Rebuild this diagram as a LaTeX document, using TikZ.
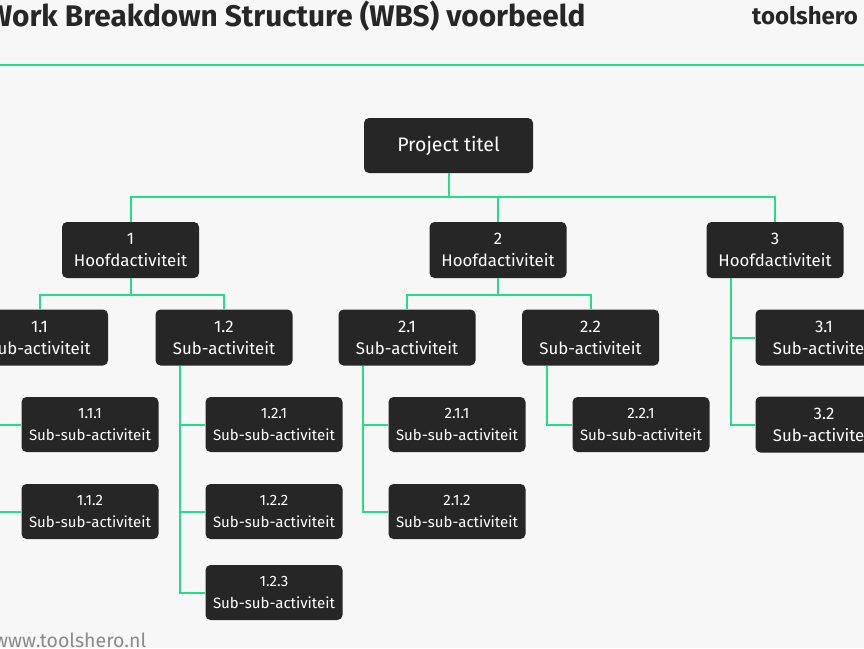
\documentclass[tikz,border=0pt]{standalone}
\usepackage{fontspec}
\setmainfont{Fira Sans}
\definecolor{bg}{HTML}{F7F7F7}
\definecolor{grn}{HTML}{22DD8C}
\definecolor{boxc}{HTML}{262626}
\definecolor{txt}{HTML}{262626}
\definecolor{urlc}{HTML}{8A8A8A}
\tikzset{
  box/.style={fill=boxc, rounded corners=5pt, text=white, align=center, inner sep=0pt},
  topbox/.style={box, minimum width=169pt, minimum height=55pt, font=\fontsize{19.5}{22}\selectfont},
  midbox/.style={box, minimum width=137pt, minimum height=56pt, font=\fontsize{16.8}{22}\selectfont},
  lowbox/.style={box, minimum width=137pt, minimum height=55pt, font=\fontsize{15}{22}\selectfont},
  conn/.style={draw=grn, line width=2pt},
}
\begin{document}
\begin{tikzpicture}[x=1pt,y=-1pt]
\useasboundingbox (0,0) rectangle (864,648);
\clip (0,0) rectangle (864,648);
\fill[bg] (0,0) rectangle (864,648);
% header
\node[anchor=base west, inner sep=0pt, text=txt, font=\fontsize{29.8}{34}\selectfont\bfseries] (title) at (-13,26.5) {Work Breakdown Structure (WBS) voorbeeld};
\node[anchor=base west, inner sep=0pt, text=txt, font=\fontsize{24}{28}\selectfont\bfseries] (logo) at (752,24.5) {toolshero};
\coordinate (hl) at (0,65);
\coordinate (hr) at (864,65);
\draw[conn, line width=2.2pt] (hl) -- (hr);
\node[anchor=base west, inner sep=0pt, text=urlc, font=\fontsize{19.5}{22}\selectfont] (url) at (-6,647) {www.toolshero.nl};
% nodes
\node[topbox] (p) at (448.5,145.5) {Project titel};
\node[midbox] (n1) at (130.5,250) {1\\Hoofdactiviteit};
\node[midbox] (n2) at (498,250) {2\\Hoofdactiviteit};
\node[midbox] (n3) at (775,250) {3\\Hoofdactiviteit};
\node[midbox] (n11) at (39.5,337.5) {1.1\\Sub-activiteit};
\node[midbox] (n12) at (224,337.5) {1.2\\Sub-activiteit};
\node[midbox] (n21) at (407,337.5) {2.1\\Sub-activiteit};
\node[midbox] (n22) at (590.5,337.5) {2.2\\Sub-activiteit};
\node[midbox] (n31) at (824,337.5) {3.1\\Sub-activiteit};
\node[midbox] (n32) at (824,424.5) {3.2\\Sub-activiteit};
\node[lowbox] (n111) at (90,424.5) {1.1.1\\Sub-sub-activiteit};
\node[lowbox] (n112) at (90,511.5) {1.1.2\\Sub-sub-activiteit};
\node[lowbox] (n121) at (274,424.5) {1.2.1\\Sub-sub-activiteit};
\node[lowbox] (n122) at (274,511.5) {1.2.2\\Sub-sub-activiteit};
\node[lowbox] (n123) at (274,592.5) {1.2.3\\Sub-sub-activiteit};
\node[lowbox] (n211) at (457,424.5) {2.1.1\\Sub-sub-activiteit};
\node[lowbox] (n212) at (457,511.5) {2.1.2\\Sub-sub-activiteit};
\node[lowbox] (n221) at (641,424.5) {2.2.1\\Sub-sub-activiteit};
% level 0 -> 1
\draw[conn] (p.south) -- ++(0,24) coordinate (b0);
\draw[conn] (n1.north) -- (n1.north |- b0) -- (n3.north |- b0) -- (n3.north);
\draw[conn] (n2.north) -- (n2.north |- b0);
% level 1 -> 2
\draw[conn] (n1.south) -- ++(0,17) coordinate (b1);
\draw[conn] (n11.north) -- (n11.north |- b1) -- (n12.north |- b1) -- (n12.north);
\draw[conn] (n2.south) -- ++(0,17) coordinate (b2);
\draw[conn] (n21.north) -- (n21.north |- b2) -- (n22.north |- b2) -- (n22.north);
% node 3 children
\draw[conn] ([xshift=25pt]n3.south west) -- ([xshift=25pt]n3.south west |- n32.west) -- (n32.west);
\draw[conn] ([xshift=25pt]n3.south west |- n31.west) -- (n31.west);
% level 2 -> 3
\draw[conn] ([xshift=25pt]n11.south west) -- ([xshift=25pt]n11.south west |- n112.west) -- (n112.west);
\draw[conn] ([xshift=25pt]n11.south west |- n111.west) -- (n111.west);
\draw[conn] ([xshift=25pt]n12.south west) -- ([xshift=25pt]n12.south west |- n123.west) -- (n123.west);
\draw[conn] ([xshift=25pt]n12.south west |- n121.west) -- (n121.west);
\draw[conn] ([xshift=25pt]n12.south west |- n122.west) -- (n122.west);
\draw[conn] ([xshift=25pt]n21.south west) -- ([xshift=25pt]n21.south west |- n212.west) -- (n212.west);
\draw[conn] ([xshift=25pt]n21.south west |- n211.west) -- (n211.west);
\draw[conn] ([xshift=25pt]n22.south west) -- ([xshift=25pt]n22.south west |- n221.west) -- (n221.west);
\end{tikzpicture}
\end{document}
